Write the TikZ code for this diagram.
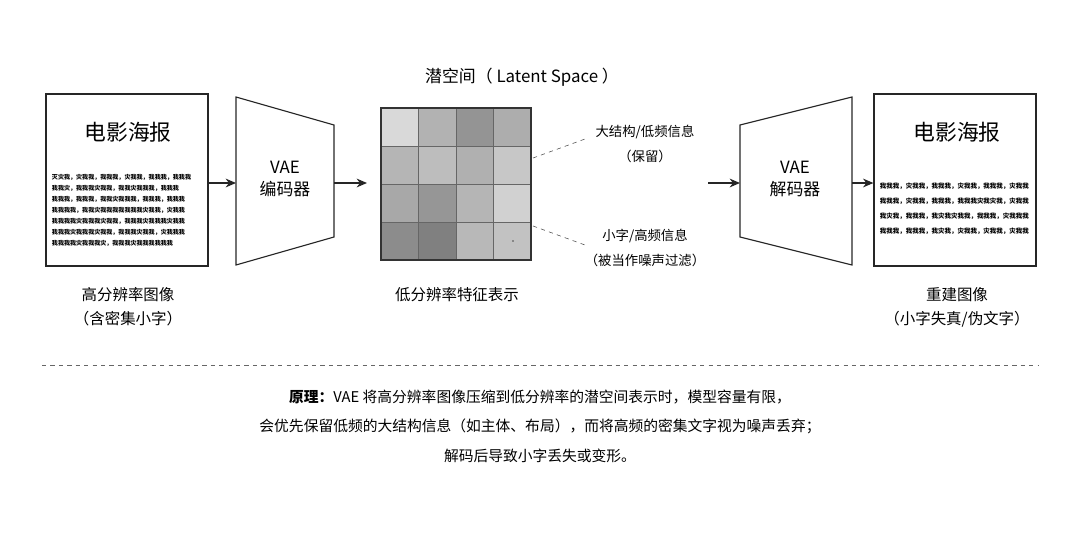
\documentclass[tikz,border=0pt]{standalone}
\usepackage{fontspec}
\setmainfont{Noto Sans CJK SC}
\usetikzlibrary{arrows.meta}

\begin{document}
\begin{tikzpicture}[x=0.025cm, y=-0.025cm,
label/.style={font=\fontsize{11pt}{13pt}\selectfont, align=center},
poster/.style={draw=black!85, thick, minimum width=4.05cm, minimum height=4.3cm, inner sep=0pt},
poster-title/.style={font=\fontsize{15.5pt}{18pt}\selectfont},
tiny-text/.style={font=\fontsize{4.3pt}{7.8pt}\selectfont\bfseries, text width=3.75cm, align=left, inner sep=0pt},
line/.style={draw=black!85, thick, -{Stealth[length=2.6mm, width=2.2mm]}},
pointer/.style={draw=black!70, dashed, thin},
cell/.style={draw=black!60, thin}
]
\useasboundingbox (0,0) rectangle (1080,540);

% posters
\node [poster] (src) at (127,180) {};
\node [poster-title] (src-title) at (128,132) {电影海报};
\node [tiny-text] (src-text) at (127,210) {灭灾我，灾我我，我我我，灾我我，我我我，我我我
我我灾，我我我灾我我，我我灾我我我，我我我
我我我，我我我，我我灾我我我，我我我，我我我
我我我我，我我灾我我我我我我我灾我我，灾我我
我我我我灾我我我灾我我，我我我灾我我我灾我我
我我我灾我我我灾我我，我我我灾我我，灾我我我
我我我我灾我我我灾，我我我灾我我我我我我};

\node [poster] (rec) at (955,180) {};
\node [poster-title] (rec-title) at (957,132) {电影海报};
\node [tiny-text, font=\fontsize{4.6pt}{10.6pt}\selectfont\bfseries] (rec-text) at (955,209) {我我我，灾我我，我我我，灾我我，我我我，灾我我
我我我，灾我我，我我我，我我我灾我灾我，灾我我
我灾我，我我我，我灾我灾我我，我我我，灾我我我
我我我，我我我，我灾我，灾我我，灾我我，灾我我};

% encoder / decoder
\coordinate (enc-in) at (236,183);
\coordinate (enc-out) at (334,183);
\draw [draw=black!85, thick] (236,97) -- (334,125) -- (334,237) -- (236,265) -- cycle;
\node [label, font=\fontsize{12pt}{16pt}\selectfont] (enc) at (285,179) {VAE\\编码器};

\coordinate (dec-in) at (740,183);
\coordinate (dec-out) at (852,183);
\draw [draw=black!85, thick] (740,125) -- (852,97) -- (852,265) -- (740,237) -- cycle;
\node [label, font=\fontsize{12pt}{16pt}\selectfont] (dec) at (795,179) {VAE\\解码器};

% latent grid
\foreach \g [count=\i from 0] in {85,70,58,68, 71,74,69,78, 66,59,71,82, 55,50,72,76} {
  \pgfmathtruncatemacro\col{mod(\i,4)}
  \pgfmathtruncatemacro\row{div(\i,4)}
  \pgfmathtruncatemacro\shade{100-\g}
  \filldraw [cell, fill=black!\shade] (381+37.5*\col,108+38*\row) rectangle ++(37.5,38);
}
\draw [draw=black!80, thick] (381,108) rectangle (531,260);
\fill [black!70] (513,241) circle (0.8);
\node [label, font=\fontsize{12pt}{15pt}\selectfont] (grid-title) at (522,77) {潜空间（ Latent Space ）};

\coordinate (keep-end) at (533,158);
\coordinate (drop-end) at (533,226);
\node [label, font=\fontsize{9.5pt}{18pt}\selectfont] (keep) at (645,144) {大结构/低频信息\\（保留）};
\node [label, font=\fontsize{9.5pt}{18pt}\selectfont] (drop) at (645,248) {小字/高频信息\\（被当作噪声过滤）};
\draw [pointer] (keep-end) -- (585,139);
\draw [pointer] (drop-end) -- (585,245);

% arrows
\path [line] (src.east |- enc-in) -- (enc-in);
\path [line] (enc-out) -- (367,183);
\path [line] (708,183) -- (dec-in);
\path [line] (dec-out) -- (rec.west |- dec-out);

% captions
\node [label, font=\fontsize{11pt}{17pt}\selectfont] (src-cap) at (128,307) {高分辨率图像\\（含密集小字）};
\node [label] (grid-cap) at (457,295) {低分辨率特征表示};
\node [label, font=\fontsize{11pt}{17pt}\selectfont] (rec-cap) at (957,307) {重建图像\\（小字失真/伪文字）};

% note
\draw [draw=black!60, dashed] (42,365) -- (1038,365);
\node [label, font=\fontsize{10.5pt}{21pt}\selectfont] (note) at (540,426)
  {\textbf{原理：}VAE 将高分辨率图像压缩到低分辨率的潜空间表示时，模型容量有限，\\
   会优先保留低频的大结构信息（如主体、布局），而将高频的密集文字视为噪声丢弃；\\
   解码后导致小字丢失或变形。};
\end{tikzpicture}
\end{document}
